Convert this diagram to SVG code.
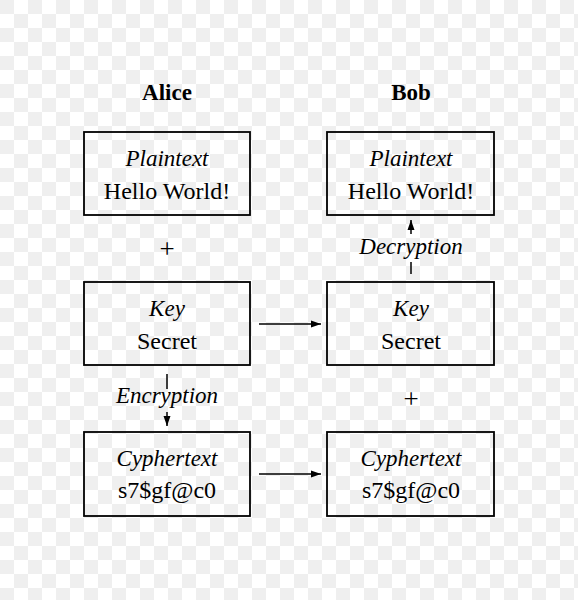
<svg xmlns="http://www.w3.org/2000/svg" width="578" height="600" viewBox="0 0 578 600">
<defs>
<pattern id="chk" patternUnits="userSpaceOnUse" width="28" height="28">
<rect width="28" height="28" fill="#ffffff"/>
<rect width="14" height="14" fill="#efefef"/>
<rect x="14" y="14" width="14" height="14" fill="#efefef"/>
</pattern>
<marker id="ah" viewBox="0 0 10 10" refX="10" refY="5" markerWidth="10" markerHeight="10" markerUnits="userSpaceOnUse" orient="auto">
<path d="M0,1.5 L10,5 L0,8.5 z" fill="#000"/>
</marker>
<style>
.box{fill:none;stroke:#000;stroke-width:1.8}
.t{font-family:"Liberation Serif",serif;fill:#000;text-anchor:middle}
.it{font-style:italic;font-size:23px}
.rg{font-size:24px}
.hd{font-weight:bold;font-size:23px}
.pl{font-size:27px}
.c{stroke:#000;stroke-width:1.5;fill:none}
</style>
</defs>
<rect width="578" height="600" fill="url(#chk)"/>
<g id="alice-label"><text class="t hd" x="167" y="100">Alice</text></g>
<g id="bob-label"><text class="t hd" x="411" y="100">Bob</text></g>
<g id="alice-plaintext">
<rect class="box" x="84" y="132" width="166" height="83"/>
<text class="t it" x="167" y="166">Plaintext</text>
<text class="t rg" x="167" y="199">Hello World!</text>
</g>
<g id="alice-plus"><text class="t pl" x="167" y="258">+</text></g>
<g id="alice-key">
<rect class="box" x="84" y="282" width="166" height="83"/>
<text class="t it" x="167" y="316">Key</text>
<text class="t rg" x="167" y="349">Secret</text>
</g>
<g id="alice-cyphertext">
<rect class="box" x="84" y="432" width="166" height="84"/>
<text class="t it" x="167" y="466">Cyphertext</text>
<text class="t rg" x="167" y="498">s7$gf@c0</text>
</g>
<g id="bob-plaintext">
<rect class="box" x="327" y="132" width="167" height="83"/>
<text class="t it" x="411" y="166">Plaintext</text>
<text class="t rg" x="411" y="199">Hello World!</text>
</g>
<g id="bob-key">
<rect class="box" x="327" y="282" width="167" height="83"/>
<text class="t it" x="411" y="316">Key</text>
<text class="t rg" x="411" y="349">Secret</text>
</g>
<g id="bob-plus"><text class="t pl" x="411" y="408">+</text></g>
<g id="bob-cyphertext">
<rect class="box" x="327" y="432" width="167" height="84"/>
<text class="t it" x="411" y="466">Cyphertext</text>
<text class="t rg" x="411" y="498">s7$gf@c0</text>
</g>
<g id="connectors">
<line class="c" x1="259" y1="324" x2="321" y2="324" marker-end="url(#ah)"/>
<line class="c" x1="259" y1="474" x2="321" y2="474" marker-end="url(#ah)"/>
<line class="c" x1="167" y1="374" x2="167" y2="389"/>
<line class="c" x1="167" y1="412" x2="167" y2="426" marker-end="url(#ah)"/>
<text class="t it" x="167" y="403">Encryption</text>
<line class="c" x1="411" y1="274" x2="411" y2="262"/>
<line class="c" x1="411" y1="234" x2="411" y2="220" marker-end="url(#ah)"/>
<text class="t it" x="411" y="254">Decryption</text>
</g>
</svg>
